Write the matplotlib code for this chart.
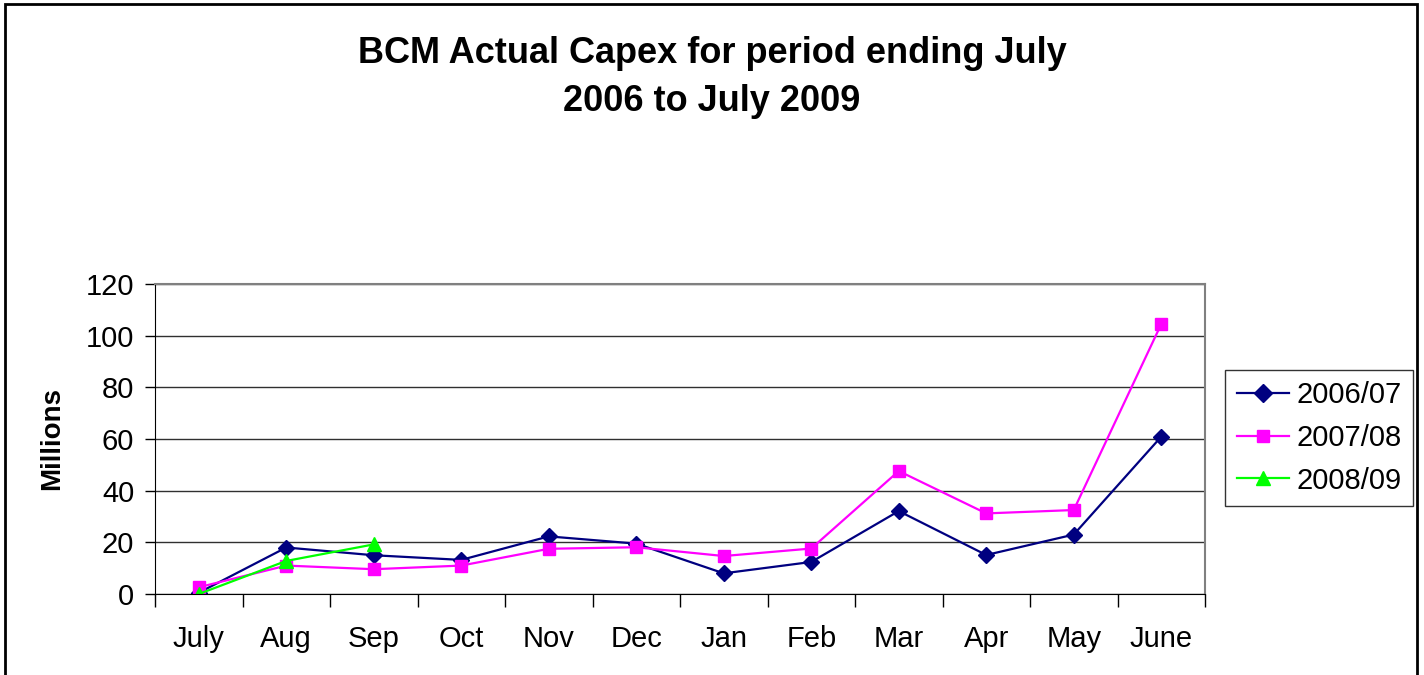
import matplotlib
matplotlib.use("Agg")
import matplotlib.pyplot as plt
from matplotlib.patches import Rectangle
from matplotlib.ticker import MultipleLocator, FixedLocator

plt.rcParams['font.family'] = ['Liberation Sans', 'DejaVu Sans']

months = ['July', 'Aug', 'Sep', 'Oct', 'Nov', 'Dec', 'Jan', 'Feb', 'Mar', 'Apr', 'May', 'June']
fy0607 = [0.5, 18, 15, 13.2, 22.3, 19.5, 8, 12.4, 32.1, 15.1, 23, 60.9]
fy0708 = [2.6, 11, 9.6, 11, 17.5, 18.1, 14.7, 17.6, 47.6, 31.2, 32.5, 104.5]
fy0809 = [0, 12.8, 19.2]
series_names = ['2006/07', '2007/08', '2008/09']

fig = plt.figure(figsize=(14.24, 6.75), dpi=100)
ax = fig.add_axes([155 / 1424, 81 / 675, 1050 / 1424, 310 / 675])

x = list(range(len(months)))
ax.plot(x, fy0607, color='#000080', marker='D', markersize=8.5, linewidth=1.6, label=series_names[0])
ax.plot(x, fy0708, color='#ff00ff', marker='s', markersize=8.5, linewidth=1.6, label=series_names[1])
ax.plot(x[:len(fy0809)], fy0809, color='#00ff00', marker='^', markersize=9.5, linewidth=1.6, label=series_names[2])

ax.set_xlim(-0.5, len(months) - 0.5)
ax.set_ylim(0, 120)
ax.yaxis.set_major_locator(MultipleLocator(20))
ax.grid(axis='y', color='#303030', linewidth=1)
ax.set_axisbelow(True)

# category ticks sit between the labels, like Excel
ax.set_xticks(x)
ax.set_xticklabels(months, fontsize=21)
ax.xaxis.set_minor_locator(FixedLocator([i - 0.5 for i in range(len(months) + 1)]))
ax.tick_params(axis='x', which='major', length=0, pad=22)
ax.tick_params(axis='x', which='minor', length=9, width=1, direction='out', color='black')
ax.tick_params(axis='y', labelsize=21, length=7, width=1, direction='out', pad=8)

for side in ['top', 'right']:
    ax.spines[side].set_color('#808080')
    ax.spines[side].set_linewidth(1.5)
ax.spines['left'].set_color('black')
ax.spines['bottom'].set_color('black')

ax.set_ylabel('Millions', fontsize=20, fontweight='bold', labelpad=15)

fig.suptitle('BCM Actual Capex for period ending July\n2006 to July 2009',
             x=712 / 1424, y=0.947, fontsize=26, fontweight='bold', linespacing=1.5)

leg = ax.legend(loc='center left', bbox_to_anchor=(1.019, 0.503), fontsize=21,
                frameon=True, fancybox=False, edgecolor='black', handlelength=1.8,
                borderpad=0.4, labelspacing=0.5, handletextpad=0.25, markerscale=1.05,
                borderaxespad=0)
leg.get_frame().set_linewidth(1)

# outer chart border
fig.patches.append(Rectangle((4.5 / 1424, -0.05), 1412.5 / 1424, 1.05 - 4.5 / 675,
                             transform=fig.transFigure, fill=False,
                             edgecolor='black', linewidth=2))

fig.savefig('out.png', dpi=100)
